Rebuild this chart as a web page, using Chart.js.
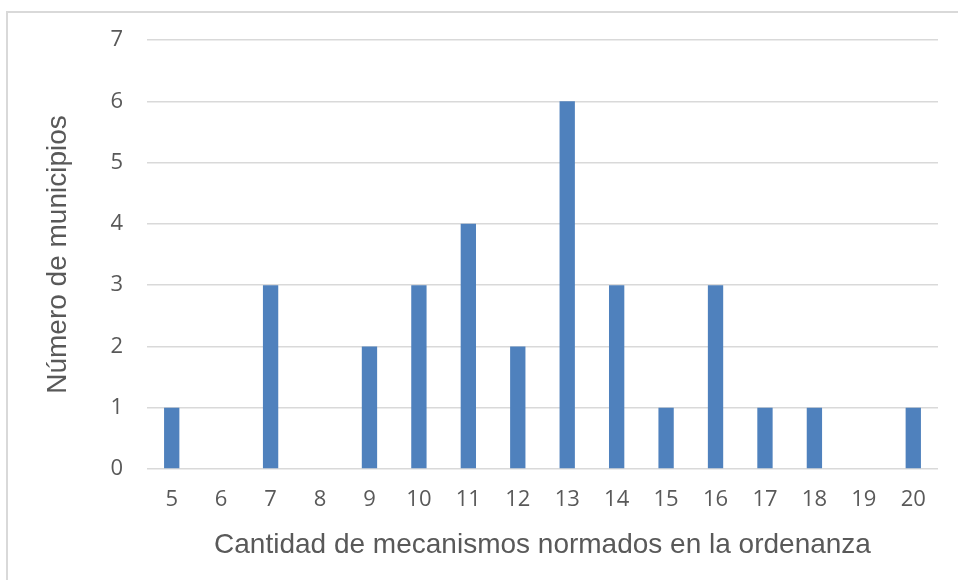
<!DOCTYPE html>
<html>
<head>
<meta charset="utf-8">
<script src="https://cdn.jsdelivr.net/npm/chart.js@4/dist/chart.umd.min.js"></script>
<style>
  html, body { margin: 0; padding: 0; background: #fff; }
  #frame { position: absolute; left: 6px; top: 11px; width: 1000px; height: 600px; border-top: 2px solid #d9d9d9; border-left: 2px solid #d9d9d9; }
  #wrap { position: absolute; left: 0; top: 0; width: 958px; height: 580px; }
</style>
</head>
<body>
<div id="frame"></div>
<div id="wrap"><canvas id="c" width="958" height="580"></canvas></div>
<script>
const categories = ["5","6","7","8","9","10","11","12","13","14","15","16","17","18","19","20"];
const municipios = [1,0,3,0,2,3,4,2,6,3,1,3,1,1,0,1];
const yTicks = [0,1,2,3,4,5,6,7];
const xTitle = "Cantidad de mecanismos normados en la ordenanza";
const yTitle = "Número de municipios";

new Chart(document.getElementById('c'), {
  type: 'bar',
  data: {
    labels: categories,
    datasets: [{
      data: municipios,
      backgroundColor: '#4f81bd',
      borderWidth: 0,
      categoryPercentage: 0.31,
      barPercentage: 1.0
    }]
  },
  options: {
    responsive: false,
    animation: false,
    layout: { padding: { left: 0, right: 20, top: 40, bottom: 0 } },
    plugins: { legend: { display: false }, tooltip: { enabled: false } },
    scales: {
      x: {
        grid: { display: false, drawTicks: false },
        border: { display: false },
        ticks: { color: '#595959', font: { family: "'Open Sans'", size: 22 }, padding: 18, maxRotation: 0 },
        title: { display: true, text: xTitle, color: '#595959', font: { family: "'Liberation Sans'", size: 28 }, padding: { top: 0, bottom: 18 } },
        afterFit(s) { s.height = 111; }
      },
      y: {
        min: 0, max: 7,
        afterBuildTicks(s) { s.ticks = yTicks.map(v => ({ value: v })); },
        grid: { color: '#d9d9d9', lineWidth: 1.5, drawTicks: false },
        border: { display: false },
        ticks: { color: '#595959', font: { family: "'Open Sans'", size: 22 }, padding: 24 },
        title: { display: true, text: yTitle, color: '#595959', font: { family: "'Liberation Sans'", size: 28 }, padding: { top: 41, bottom: 0 } },
        afterFit(s) { s.width = 147; }
      }
    }
  }
});
</script>
</body>
</html>
